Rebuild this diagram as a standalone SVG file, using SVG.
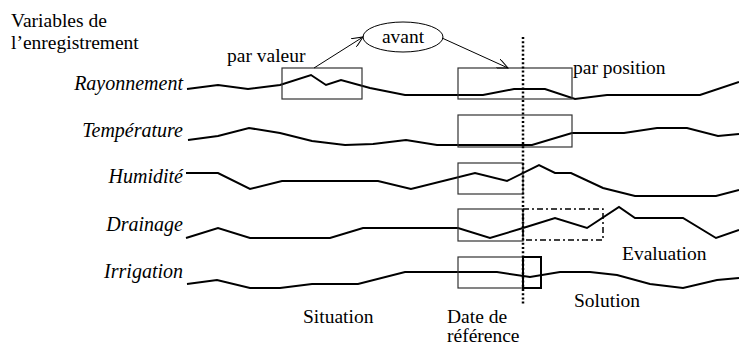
<svg xmlns="http://www.w3.org/2000/svg" width="739" height="347" viewBox="0 0 739 347">
<defs>
<style>
.t{font-family:"Liberation Serif","Times New Roman",serif;font-size:19.5px;fill:#000}
.i{font-family:"Liberation Serif","Times New Roman",serif;font-size:20px;font-style:italic;fill:#000;text-anchor:end}
.curve{fill:none;stroke:#000;stroke-width:2;stroke-linejoin:miter}
.box{fill:none;stroke:#333;stroke-width:1.2}
.arrow{fill:none;stroke:#000;stroke-width:1;marker-end:url(#open)}
</style>
<marker id="open" viewBox="0 0 12 10" refX="11" refY="5" markerWidth="12" markerHeight="10" markerUnits="userSpaceOnUse" orient="auto">
<path d="M0,0 L11,5 L0,10" fill="none" stroke="#000" stroke-width="1"/>
</marker>
</defs>
<rect width="739" height="347" fill="#fff"/>

<g id="header">
<text class="t" x="11" y="27">Variables de</text>
<text class="t" x="11" y="49">l’enregistrement</text>
</g>

<g id="rayonnement">
<text class="i" x="183" y="90">Rayonnement</text>
<polyline class="curve" points="187,89 218,85 248,89 280,85 311,75 326,85 341,80 370,88 405,95 483,95 514,89 545,89 575,99 607,95 700,95 739,82"/>
</g>
<g id="temperature">
<text class="i" x="183" y="137">Température</text>
<polyline class="curve" points="188,140 218,136 249,128 280,133 312,141 345,145 373,144 406,140 437,145 532,145 572,133 624,133 657,128 687,128 718,136 739,134"/>
</g>
<g id="humidite">
<text class="i" x="183" y="183">Humidité</text>
<polyline class="curve" points="186,173 218,173 250,189 282,181 378,181 411,189 475,173 507,181 539,165 555,173 571,173 603,188 635,196 716,196 739,190"/>
</g>
<g id="drainage">
<text class="i" x="183" y="231">Drainage</text>
<polyline class="curve" points="186,238 218,228 250,238 330,238 363,228 458,228 490,238 523,228 555,218 587,228 619,207 635,218 683,218 716,238 739,230"/>
</g>
<g id="irrigation">
<text class="i" x="183" y="278">Irrigation</text>
<polyline class="curve" points="187,284 217,280 250,288 280,288 312,284 358,284 405,272 497,272 530,277 560,272 590,272 617,275 650,284 683,288 717,280 739,278"/>
</g>

<g id="par-valeur">
<rect class="box" x="282" y="68" width="80" height="31"/>
<text class="t" x="227" y="62">par valeur</text>
</g>
<g id="par-position">
<rect class="box" x="458" y="68" width="114" height="31"/>
<rect class="box" x="458" y="115" width="114" height="32"/>
<text class="t" x="573" y="74">par position</text>
</g>
<g id="avant">
<ellipse cx="403" cy="37" rx="40" ry="15" fill="#fff" stroke="#000" stroke-width="1"/>
<text class="t" x="403" y="43" text-anchor="middle">avant</text>
</g>
<g id="situation-boxes">
<rect class="box" x="458" y="163" width="65" height="31"/>
<rect class="box" x="458" y="209" width="65" height="32"/>
<rect class="box" x="458" y="257" width="65" height="31"/>
</g>
<g id="evaluation">
<rect x="523" y="209" width="80" height="31" fill="none" stroke="#000" stroke-width="1.5" stroke-dasharray="6,3,2,3"/>
<text class="t" x="622" y="260">Evaluation</text>
</g>
<g id="solution">
<rect x="523" y="257" width="18" height="31" fill="none" stroke="#000" stroke-width="2"/>
<text class="t" x="574" y="307">Solution</text>
</g>
<g id="date-reference">
<line x1="523" y1="37" x2="523" y2="304" stroke="#000" stroke-width="2.5" stroke-dasharray="2,2.2"/>
<text class="t" x="447" y="323">Date de</text>
<text class="t" x="447" y="342">référence</text>
</g>
<g id="situation">
<text class="t" x="303" y="323">Situation</text>
</g>

<g id="connectors">
<line class="arrow" x1="314" y1="68" x2="363" y2="37"/>
<line class="arrow" x1="442" y1="38" x2="508" y2="68"/>
</g>
</svg>
